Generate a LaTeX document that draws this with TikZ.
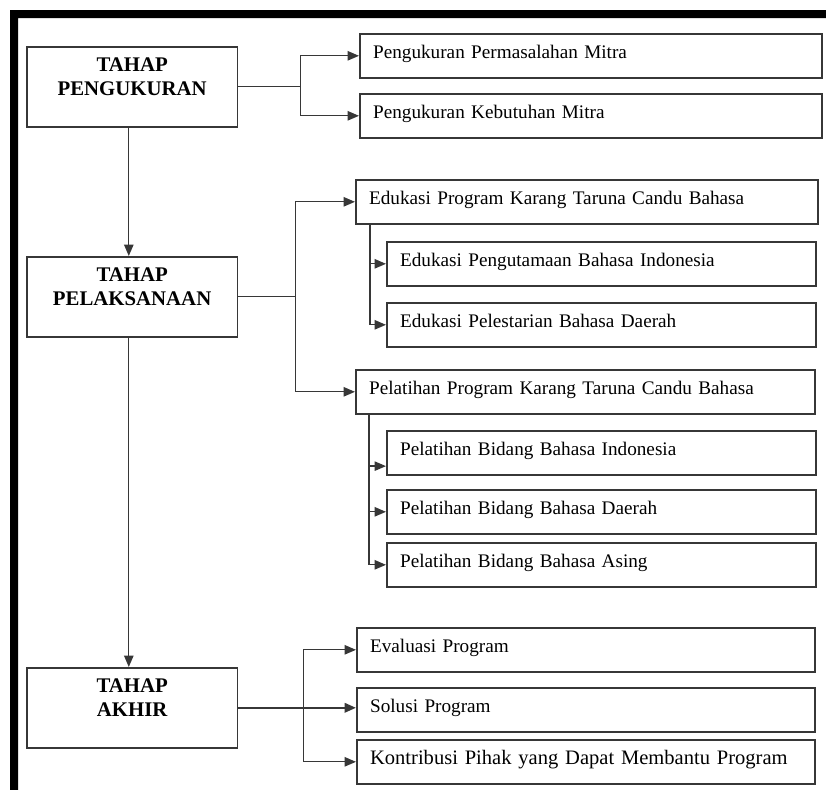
\documentclass[tikz,border=0pt]{standalone}
\usepackage{fontspec}
\setmainfont{Liberation Serif}
\usepackage{xcolor}
\usetikzlibrary{arrows.meta}
\definecolor{linegray}{RGB}{55,55,55}
\tikzset{
 stagebox/.style={draw=linegray,line width=1.2pt,anchor=north west,
  minimum width=158pt,minimum height=60pt,align=center,
  font=\fontsize{15.6}{18}\selectfont\bfseries},
 itembox/.style={draw=linegray,line width=1.2pt,anchor=north west,
  align=left,text width=#1,inner xsep=10pt,inner ysep=0pt,
  text height=18.5pt,text depth=14.5pt,
  font=\fontsize{14.4}{17}\selectfont},
 link/.style={linegray,line width=1pt},
 tip/.style={-{Triangle[length=8.5pt,width=7pt]}}
}
\newcommand{\lowstrut}{\rule[-15pt]{0pt}{15pt}}

\begin{document}
\begin{tikzpicture}[x=.75pt,y=-.75pt]
 \useasboundingbox (0,0) rectangle (826,790);
 % frame, cut off at right and bottom
 \fill[black] (10,790) -- (10,10) -- (826,10) -- (826,18) -- (18,18) -- (18,790) -- cycle;

 % stages
 \node[stagebox] (meas) at (26,46) {TAHAP\\PENGUKURAN\lowstrut};
 \node[stagebox] (exec) at (26,256) {TAHAP\\PELAKSANAAN\lowstrut};
 \node[stagebox] (fin) at (26,667) {TAHAP\\AKHIR\lowstrut};

 % measuring
 \node[itembox=326.5pt] (meas1) at (359,33) {Pengukuran Permasalahan Mitra};
 \node[itembox=326.5pt] (meas2) at (359,93) {Pengukuran Kebutuhan Mitra};

 % carrying out
 \node[itembox=326.5pt] (edu) at (355,179) {Edukasi Program Karang Taruna Candu Bahasa};
 \node[itembox=301.75pt] (edu1) at (386,241) {Edukasi Pengutamaan Bahasa Indonesia};
 \node[itembox=301.75pt] (edu2) at (386,302) {Edukasi Pelestarian Bahasa Daerah};
 \node[itembox=324.25pt] (train) at (355,369) {Pelatihan Program Karang Taruna Candu Bahasa};
 \node[itembox=301.75pt] (train1) at (386,430) {Pelatihan Bidang Bahasa Indonesia};
 \node[itembox=301.75pt] (train2) at (386,489) {Pelatihan Bidang Bahasa Daerah};
 \node[itembox=301.75pt] (train3) at (386,542) {Pelatihan Bidang Bahasa Asing};

 % final stage
 \node[itembox=323.5pt] (fin1) at (356,627) {Evaluasi Program};
 \node[itembox=323.5pt] (fin2) at (356,687) {Solusi Program};
 \node[itembox=323.5pt,font=\fontsize{15.4}{18}\selectfont] (fin3) at (356,739) {Kontribusi Pihak yang Dapat Membantu Program};

 % stage to stage
 \draw[link,tip] ([xshift=-2.5pt]meas.south) -- ([xshift=-2.5pt]exec.north);
 \draw[link,tip] ([xshift=-2.5pt]exec.south) -- ([xshift=-2.5pt]fin.north);

 % branches
 \draw[link] (meas.east) -- ++(62,0) coordinate (mj);
 \draw[link,tip] (mj) |- (meas1.west);
 \draw[link,tip] (mj) |- (meas2.west);

 \draw[link] (exec.east) -- ++(57,0) coordinate (ej);
 \draw[link,tip] (ej) |- (edu.west);
 \draw[link,tip] (ej) |- (train.west);

 \draw[link,tip] ([xshift=11.25pt]edu.south west) |- (edu1.west);
 \draw[link,tip] ([xshift=11.25pt]edu.south west) |- (edu2.west);

 \draw[link,tip] ([xshift=10.5pt]train.south west) |- ([yshift=-10pt]train1.west);
 \draw[link,tip] ([xshift=10.5pt]train.south west) |- (train2.west);
 \draw[link,tip] ([xshift=10.5pt]train.south west) |- (train3.west);

 \path (fin.east) -- ++(65,0) coordinate (fj);
 \draw[link,line width=1.8pt,tip] (fin.east) -- (fin.east -| fin2.west);
 \draw[link,tip] (fj) |- (fin1.west);
 \draw[link,tip] (fj) |- (fin3.west);
\end{tikzpicture}
\end{document}
